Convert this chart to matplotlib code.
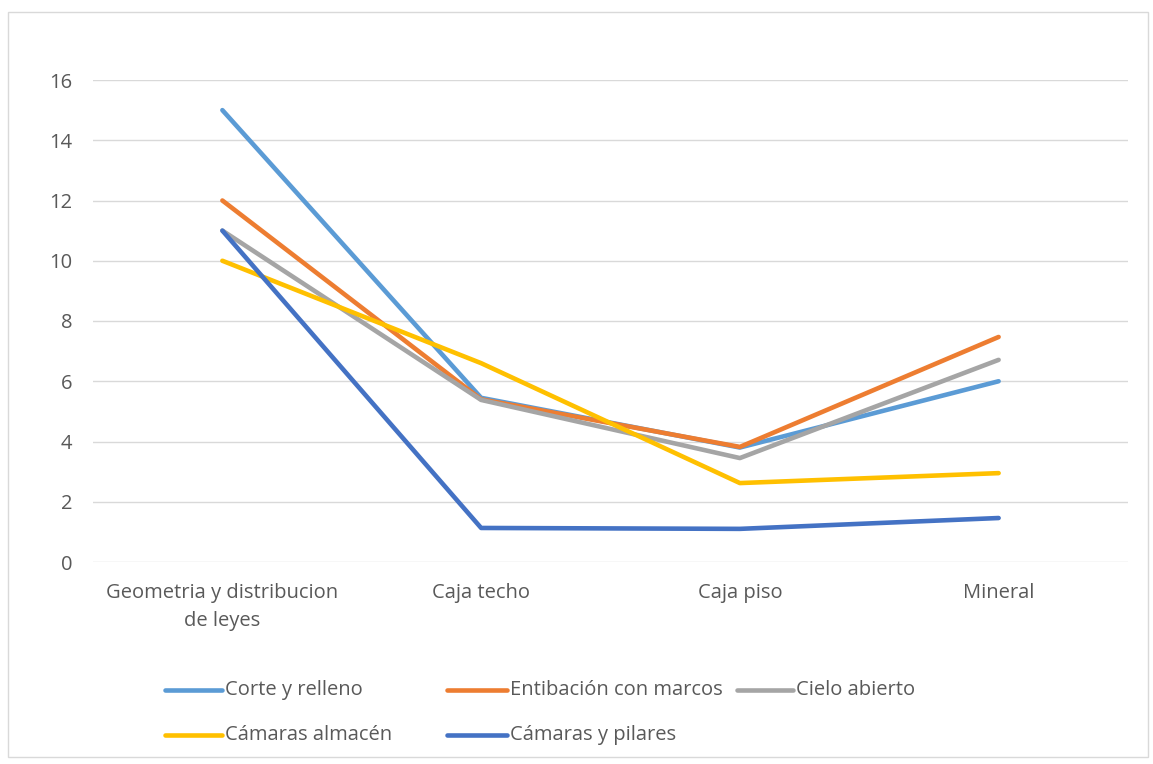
import matplotlib
matplotlib.use("Agg")
import matplotlib.pyplot as plt
from matplotlib.patches import Rectangle
from matplotlib.lines import Line2D

categories = ["Geometria y distribucion\nde leyes", "Caja techo", "Caja piso", "Mineral"]
corte_relleno = [15, 5.45, 3.8, 6.0]
entibacion = [12, 5.4, 3.82, 7.47]
cielo_abierto = [11, 5.38, 3.45, 6.71]
camaras_almacen = [10, 6.6, 2.62, 2.95]
camaras_pilares = [11, 1.13, 1.1, 1.46]
yticks = [0, 2, 4, 6, 8, 10, 12, 14, 16]

series = [
    ("Corte y relleno", corte_relleno, "#5B9BD5"),
    ("Entibación con marcos", entibacion, "#ED7D31"),
    ("Cielo abierto", cielo_abierto, "#A5A5A5"),
    ("Cámaras almacén", camaras_almacen, "#FFC000"),
    ("Cámaras y pilares", camaras_pilares, "#4472C4"),
]

plt.rcParams['font.family'] = ['Open Sans', 'DejaVu Sans']
FS = 14.5
TXT = '#595959'
W, H = 1153, 764
fig = plt.figure(figsize=(W / 100, H / 100), dpi=100)
ax = fig.add_axes([93 / W, 1 - 562 / H, (1128 - 93) / W, (562 - 80) / H])

x = list(range(len(categories)))
for name, vals, col in series:
    ax.plot(x, vals, color=col, lw=3.3, solid_capstyle='round', solid_joinstyle='round', label=name)

ax.set_xlim(-0.5, len(categories) - 0.5)
ax.set_ylim(0, 16)
ax.set_yticks(yticks)
ax.set_xticks(x)
ax.set_xticklabels(categories, fontsize=FS, color=TXT, linespacing=1.55)
ax.tick_params(axis='y', labelsize=FS, labelcolor=TXT, length=0, pad=15)
ax.tick_params(axis='x', length=0, pad=15)
ax.grid(axis='y', color='#D9D9D9', lw=1)
ax.set_axisbelow(True)
for s in ax.spines.values():
    s.set_visible(False)

# legend entries laid out as in the reference (row-wise, fixed columns)
legend_layout = [(165, 222, 690), (447, 507, 690), (737, 793, 690), (165, 222, 735), (447, 507, 735)]
for (name, vals, col), (x0, x1, yy) in zip(series, legend_layout):
    fy = 1 - yy / H
    fig.add_artist(Line2D([x0 / W, x1 / W], [fy, fy], transform=fig.transFigure,
                          color=col, lw=3.3, solid_capstyle='round'))
    fig.text((x1 + 3) / W, fy, name, fontsize=FS, color=TXT, va='center', ha='left')

fig.patches.append(Rectangle((8 / W, 1 - 757 / H), (1148 - 8) / W, (757 - 12) / H,
                             transform=fig.transFigure, fill=False, edgecolor='#D9D9D9', lw=1))

fig.savefig("out.png", dpi=100, facecolor='white')
